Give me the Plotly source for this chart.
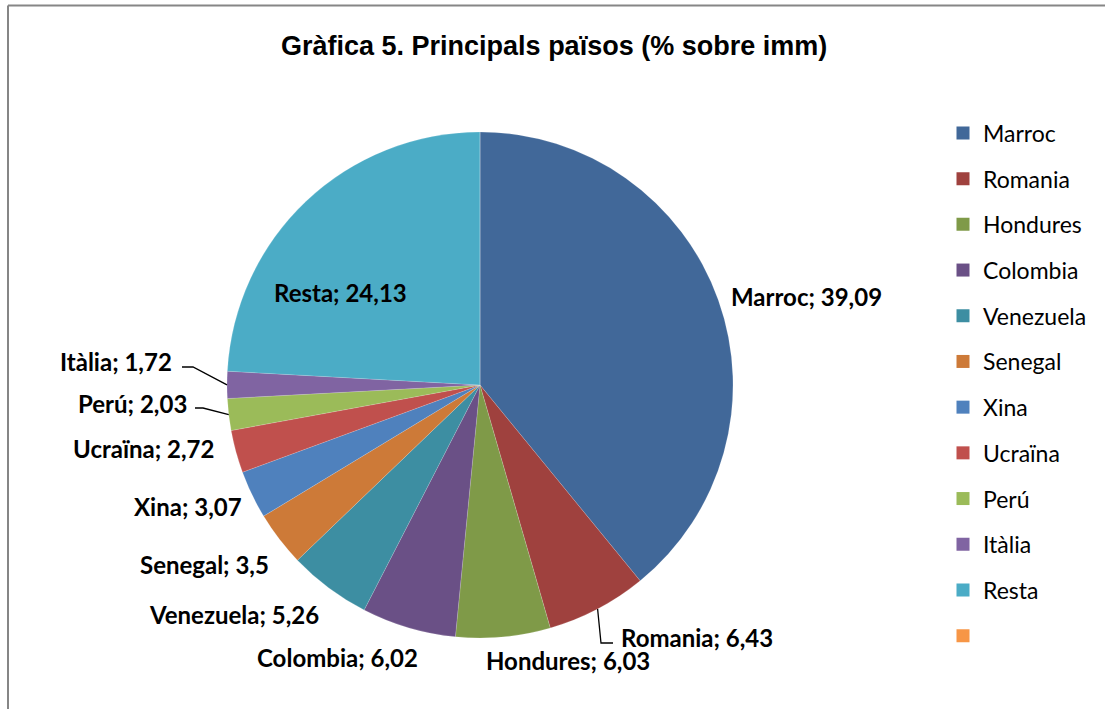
import math
import plotly.graph_objects as go

# ---------------- data ----------------
countries = ["Marroc", "Romania", "Hondures", "Colombia", "Venezuela", "Senegal",
             "Xina", "Ucraïna", "Perú", "Itàlia", "Resta", " "]
shares = [39.09, 6.43, 6.03, 6.02, 5.26, 3.5, 3.07, 2.72, 2.03, 1.72, 24.13, 0]
title_text = "Gràfica 5. Principals països (% sobre imm)"

# ---------------- styles ----------------
colors = ["#416899", "#9F413E", "#7F9A48", "#6A5086", "#3D8EA2", "#CD7A38",
          "#4F81BD", "#C0504D", "#9BBB59", "#8064A2", "#4BACC6", "#F79646"]

W, H = 1105, 709
CX, CY, R = 480, 385, 253          # pie centre / radius in pixels (layout)


def px(x):
    return x / W


def py(y):
    return 1 - y / H


# label centres (layout, pixels) for each real category
label_pos = [(806, 296), (697, 637), (568, 660), (337, 657), (234, 614), (204, 564),
             (188, 506), (143, 448), (132, 403), (116, 361), (340, 292)]
# leader-line elbows and label ends (layout, pixels) for labels pulled away
leaders = {"Romania": [(601, 643), (613, 643)],
           "Perú": [(203, 408), (195, 408)],
           "Itàlia": [(193, 367), (182, 367)]}

fig = go.Figure()

fig.add_trace(go.Pie(
    labels=countries, values=shares, sort=False, direction="clockwise", rotation=0,
    marker=dict(colors=colors, line=dict(color="rgba(255,255,255,0.3)", width=0.5)),
    textinfo="none", hoverinfo="label+value", showlegend=False,
    domain=dict(x=[px(CX - R), px(CX + R)], y=[py(CY + R), py(CY - R)]),
))

# legend entries (one per category, so each can be spaced like the original)
for i, (name, col) in enumerate(zip(countries, colors)):
    fig.add_trace(go.Scatter(
        x=[None], y=[None], mode="markers", name=name, legendgroup=f"g{i}",
        marker=dict(symbol="square", size=13, color=col), showlegend=True,
    ))

# data labels
total = sum(shares)
annotations = []
shapes = []
cum = 0.0
for i, (name, v) in enumerate(zip(countries, shares)):
    if v <= 0:
        continue
    mid = (cum + v / 2) / total * 2 * math.pi
    cum += v
    lx, ly = label_pos[i]
    annotations.append(dict(
        x=px(lx), y=py(ly), xref="paper", yref="paper", showarrow=False,
        text=f"<b>{name}; {str(v).replace('.', ',')}</b>",
        font=dict(family="Lato", size=24, color="#000000"),
        xanchor="center", yanchor="middle",
    ))
    if name in leaders:
        ex, ey = CX + R * math.sin(mid), CY - R * math.cos(mid)
        pts = [(ex, ey)] + leaders[name]
        path = "M " + " L ".join(f"{px(a)},{py(b)}" for a, b in pts)
        shapes.append(dict(type="path", path=path, xref="paper", yref="paper",
                           line=dict(color="#000000", width=1.3)))

# title
annotations.append(dict(
    x=px(554), y=py(46), xref="paper", yref="paper", showarrow=False,
    text=f"<b>{title_text}</b>",
    font=dict(family="Liberation Sans", size=27, color="#000000"),
    xanchor="center", yanchor="middle",
))

# chart-area border (left and top edges visible)
shapes.append(dict(type="line", xref="paper", yref="paper",
                   x0=px(8), x1=px(8), y0=py(5.5), y1=0,
                   line=dict(color="#868686", width=2)))
shapes.append(dict(type="line", xref="paper", yref="paper",
                   x0=px(8), x1=1, y0=py(5.5), y1=py(5.5),
                   line=dict(color="#868686", width=2)))

fig.update_layout(
    width=W, height=H,
    margin=dict(l=0, r=0, t=0, b=0),
    paper_bgcolor="white", plot_bgcolor="white",
    xaxis=dict(visible=False, domain=[0.99, 1]), yaxis=dict(visible=False, domain=[0.99, 1]),
    legend=dict(x=px(943), y=py(111.5), xanchor="left", yanchor="top",
                font=dict(family="Lato", size=23, color="#000000"),
                tracegroupgap=12.8, itemwidth=30, bgcolor="rgba(0,0,0,0)"),
    annotations=annotations, shapes=shapes,
)

fig.write_html("out.html", config={"displayModeBar": False},
               post_script="document.body.style.margin='0';")
